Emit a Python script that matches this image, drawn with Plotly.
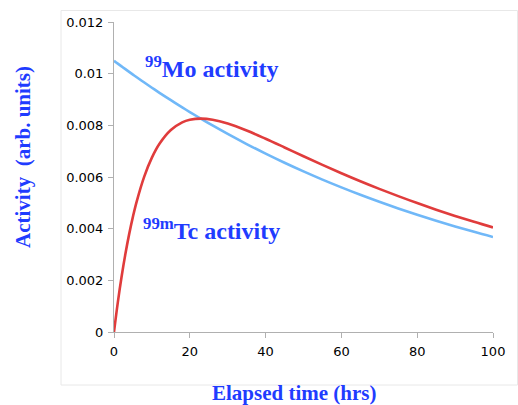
import plotly.graph_objects as go

# Elapsed time (hrs)
t_hrs = [0, 1, 2, 3, 4, 5, 6, 8, 10, 12, 15, 18, 20, 23, 26, 30, 35, 40, 45, 50,
         55, 60, 65, 70, 75, 80, 85, 90, 95, 100]
# 99Mo activity (arb. units)
mo_activity = [0.010500, 0.010390, 0.010282, 0.010175, 0.010069, 0.009964, 0.009860,
               0.009656, 0.009455, 0.009259, 0.008973, 0.008695, 0.008515, 0.008252,
               0.007996, 0.007668, 0.007276, 0.006904, 0.006551, 0.006216, 0.005898,
               0.005597, 0.005310, 0.005039, 0.004781, 0.004537, 0.004305, 0.004085,
               0.003876, 0.003677]
# 99mTc activity (arb. units)
tc_activity = [0.0, 0.001136, 0.002136, 0.003016, 0.003789, 0.004466, 0.005058,
               0.006024, 0.006749, 0.007285, 0.007818, 0.008113, 0.008214, 0.008261,
               0.008219, 0.008072, 0.007801, 0.007481, 0.007144, 0.006803, 0.006470,
               0.006147, 0.005837, 0.005541, 0.005259, 0.004991, 0.004736, 0.004494,
               0.004265, 0.004046]

x_ticks = [0, 20, 40, 60, 80, 100]
y_ticks = [0, 0.002, 0.004, 0.006, 0.008, 0.01, 0.012]
y_tick_labels = ["0", "0.002", "0.004", "0.006", "0.008", "0.01", "0.012"]

W, H = 518, 405
L, R, T, B = 114, 25, 22, 73
pw, ph = W - L - R, H - T - B

def px(xp):
    return (xp - L) / pw

def py(yp):
    return (H - B - yp) / ph

BLUE_TXT = "#1f3cff"
SERIF = "Liberation Serif, Times New Roman, serif"
fig = go.Figure()
fig.add_trace(go.Scatter(x=t_hrs, y=mo_activity, mode="lines",
                         line=dict(color="#70b8f8", width=2.6, shape="spline"),
                         showlegend=False, hoverinfo="skip"))
fig.add_trace(go.Scatter(x=t_hrs, y=tc_activity, mode="lines",
                         line=dict(color="#e03c3c", width=2.6, shape="spline"),
                         showlegend=False, hoverinfo="skip"))

axis_common = dict(showgrid=False, zeroline=False, showline=True, linecolor="#b0b0b0",
                   linewidth=1, ticks="outside", ticklen=5, tickcolor="#b0b0b0",
                   ticklabelstandoff=2,
                   tickfont=dict(family="DejaVu Sans", size=13, color="#000000"))
fig.update_xaxes(range=[0, 100], tickvals=x_ticks, ticktext=[str(v) for v in x_ticks],
                 **axis_common)
fig.update_yaxes(range=[0, 0.012], tickvals=y_ticks, ticktext=y_tick_labels,
                 **axis_common)

font_title = dict(family=SERIF, size=21, color=BLUE_TXT)
font_label = dict(family=SERIF, size=24, color=BLUE_TXT)
annos = [
    dict(text="<b><sup>99</sup>Mo activity</b>",
         x=px(143), y=py(84), xanchor="left", yanchor="bottom", font=font_label),
    dict(text="<b><sup>99m</sup>Tc activity</b>",
         x=px(141), y=py(246), xanchor="left", yanchor="bottom", font=font_label),
    dict(text="<b>Elapsed time (hrs)</b>", x=px(294), y=py(393),
         xanchor="center", yanchor="middle", font=font_title),
    dict(text="<b>Activity&nbsp;&nbsp;(arb. units)</b>", x=px(23), y=py(157),
         xanchor="center", yanchor="middle", textangle=-90, font=font_title),
]
for a in annos:
    fig.add_annotation(xref="paper", yref="paper", showarrow=False, **a)

fig.add_shape(type="rect", xref="paper", yref="paper",
              x0=px(61), x1=px(517.5), y0=py(385), y1=py(10.5),
              line=dict(color="#e8e8e8", width=1), layer="below")

fig.update_layout(width=W, height=H, margin=dict(l=L, r=R, t=T, b=B),
                  paper_bgcolor="white", plot_bgcolor="white")
fig.write_html("out.html", config={"displayModeBar": False},
               post_script="document.body.style.margin='0';document.body.style.padding='0';")
